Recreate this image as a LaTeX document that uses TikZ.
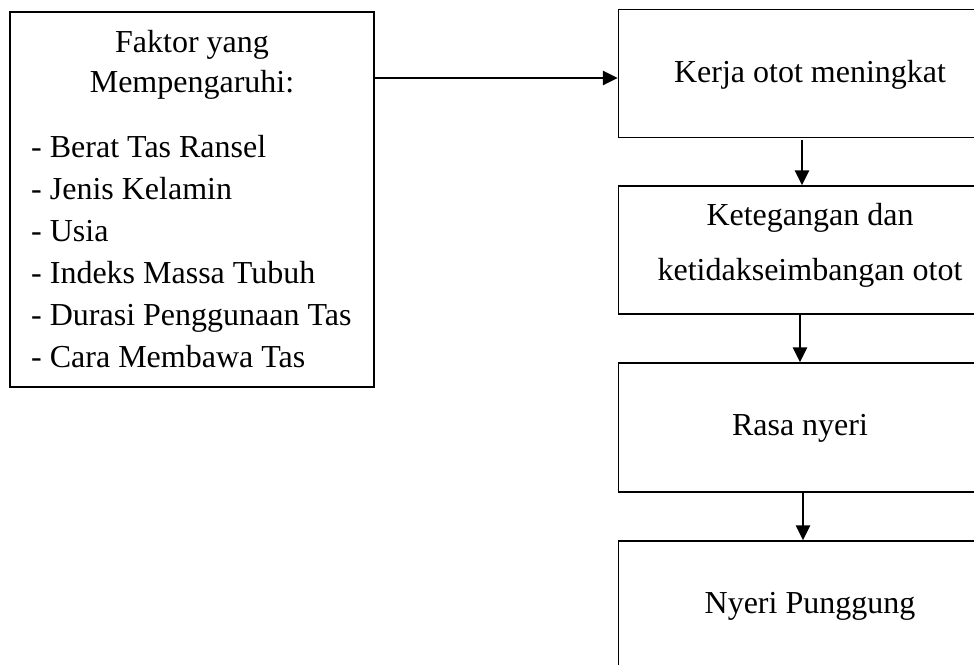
\documentclass[tikz,border=0pt]{standalone}
\usepackage{fontspec}
\setmainfont{Liberation Serif}
\usetikzlibrary{arrows.meta}
\begin{document}
\begin{tikzpicture}[x=1pt,y=-1pt,
  box/.style={draw=black,line width=1.3pt,rectangle,inner sep=0pt},
  lbl/.style={inner sep=0pt,anchor=base,font=\fontsize{32}{38}\selectfont},
  item/.style={inner sep=0pt,anchor=base west,font=\fontsize{32}{38}\selectfont},
  arr/.style={line width=2.4pt,-{Triangle[length=15pt,width=14pt]}}]
\clip (0,0) rectangle (974,664);
\useasboundingbox (0,0) rectangle (974,664);
% boxes
\node[box,minimum width=364pt,minimum height=375pt] (f) at (192,199.5) {};
\node[box,minimum width=383.5pt,minimum height=128pt] (k1) at (810.25,73.5) {};
\node[box,minimum width=383.5pt,minimum height=128pt] (k2) at (810.25,250) {};
\node[box,minimum width=383.5pt,minimum height=129pt] (k3) at (810.25,427.5) {};
\node[box,minimum width=383.5pt,minimum height=128pt] (k4) at (810.25,605) {};
% texts
\node[lbl] (t1) at (192,52) {Faktor yang};
\node[lbl] (t2) at (192,92) {Mempengaruhi:};
\node[item] (i1) at (31,157) {- Berat Tas Ransel};
\node[item] (i2) at (31,199) {- Jenis Kelamin};
\node[item] (i3) at (31,241) {- Usia};
\node[item] (i4) at (31,283) {- Indeks Massa Tubuh};
\node[item] (i5) at (31,325) {- Durasi Penggunaan Tas};
\node[item] (i6) at (31,367) {- Cara Membawa Tas};
\node[lbl] (a1) at (810,82) {Kerja otot meningkat};
\node[lbl] (a2) at (810,225) {Ketegangan dan};
\node[lbl] (a3) at (810,280) {ketidakseimbangan otot};
\node[lbl] (a4) at (800,435) {Rasa nyeri};
\node[lbl] (a5) at (810,613) {Nyeri Punggung};
% connectors
\coordinate (ya) at (0,78);
\coordinate (xa) at (802,0);
\coordinate (xb) at (800,0);
\coordinate (xc) at (803,0);
\draw[arr] (f.east |- ya) -- (k1.west |- ya);
\draw[arr] ([yshift=-2pt]k1.south -| xa) -- (k2.north -| xa);
\draw[arr] (k2.south -| xb) -- (k3.north -| xb);
\draw[arr] (k3.south -| xc) -- (k4.north -| xc);
\end{tikzpicture}
\end{document}
